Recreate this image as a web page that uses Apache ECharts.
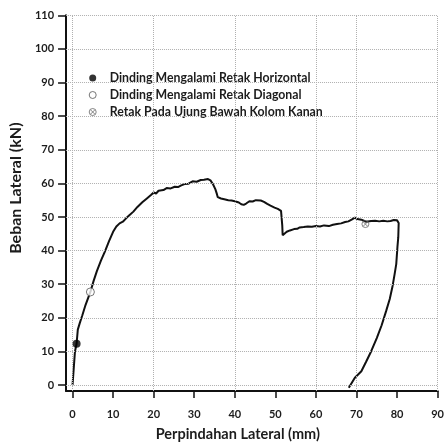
<!DOCTYPE html>
<html>
<head>
<meta charset="utf-8">
<script src="https://cdn.jsdelivr.net/npm/echarts@6/dist/echarts.min.js"></script>
<style>
html,body{margin:0;padding:0;background:#fff;}
#chart{width:447px;height:447px;}
</style>
</head>
<body>
<div id="chart"></div>
<script>
// Data
const dispX = [0,0.3,0.6,1.0,1.3,1.8,2.4,3.2,4.4,5.2,6.0,7.0,8.0,9.0,10.0,10.8,11.6,12.4,13.2,14.0,15.0,16.0,17.2,18.4,19.4,20.0,20.6,21.2,22.4,23.2,24.2,25.2,26.0,26.8,27.6,28.6,29.6,30.6,31.6,32.4,32.8,33.4,34.0,34.6,35.2,35.6,35.8,36.6,37.4,38.4,39.2,40.0,41.0,41.6,42.2,42.8,43.6,44.4,45.2,46.4,47.2,48.0,48.8,49.8,50.6,51.4,51.6,51.7,51.8,52.2,52.8,53.6,54.6,55.4,56.0,57.0,58.0,59.0,60.0,61.0,62.0,63.2,64.2,65.2,66.2,67.2,68.0,68.8,69.6,70.2,70.6,71.2,72.4,73.6,74.6,75.6,76.6,77.6,78.4,79.2,80.0,80.4,80.3,80.1,79.8,79.4,78.9,78.2,77.3,76.2,75.0,73.6,72.4,71.2,69.6,68.1];
const loadY = [0,5,10,12.3,16.5,18.5,20.7,23.8,27.7,31,33.9,37,39.8,42.8,45.6,47.2,48.1,48.6,49.6,50.5,51.6,53.0,54.4,55.6,56.6,57.3,57.0,57.8,58.0,58.6,58.5,59.0,58.9,59.4,59.8,59.9,60.6,60.5,61.0,61.1,61.6,61.3,60.9,59.8,58.3,56.8,55.9,55.5,55.3,55.0,54.9,54.7,54.3,53.8,53.6,54.0,54.7,54.6,55.0,54.9,54.5,53.9,53.4,52.8,52.4,51.8,51.5,47.5,44.6,45.1,45.6,46.0,46.4,46.5,46.9,47.0,47.2,47.1,47.3,47.2,47.5,47.3,47.7,47.9,48.1,48.5,48.7,49.2,49.8,49.4,49.6,49.2,48.6,48.8,48.9,48.7,48.9,48.7,48.8,49.1,49.0,48.2,44,41.2,36,33,29.5,25.6,22,17.8,14,10.0,7,4.1,2.2,-0.8];

const eventNames = ['Dinding Mengalami Retak Horizontal','Dinding Mengalami Retak Diagonal','Retak Pada Ujung Bawah Kolom Kanan'];
const eventX = [1.0, 4.4, 72.2];
const eventY = [12.3, 27.7, 47.9];

const xTicks = [0,10,20,30,40,50,60,70,80,90];
const yTicks = [0,10,20,30,40,50,60,70,80,90,100,110];
const xGridLines = [0,20,40,60,70,90];
const yGridLines = [0,10,20,30,40,50,60,70,80,90,100,110];

const xTitle = 'Perpindahan Lateral (mm)';
const yTitle = 'Beban Lateral (kN)';

const FONT = 'Lato';
const TXT = '#1c1c1c';

const curve = dispX.map((x,i)=>[x, loadY[i]]);
const gridStyle = {color:'#b0b0b0', type:'dotted', width:1};

const crossPath = 'path://M0,-10A10,10 0 1,1 0,10A10,10 0 1,1 0,-10ZM-6,-6L6,6M6,-6L-6,6';
const blackStyle = {color:'#000'};
const openStyle = {color:'#fff', borderColor:'#555', borderWidth:1};
const crossStyle = {color:'rgba(0,0,0,0)', borderColor:'#666', borderWidth:1};

const chart = echarts.init(document.getElementById('chart'), null, {renderer:'canvas'});
chart.setOption({
  animation:false,
  backgroundColor:'#fff',
  textStyle:{fontFamily:FONT},
  grid:{left:60, right:5.3, top:15.3, bottom:50.3, containLabel:false},
  legend:{
    orient:'vertical', left:83.7, top:67, itemWidth:24, itemHeight:7, itemGap:5,
    data:[
      {name:eventNames[0], icon:'circle', itemStyle:blackStyle},
      {name:eventNames[1], icon:'circle', itemStyle:openStyle},
      {name:eventNames[2], icon:crossPath, itemStyle:crossStyle}
    ],
    textStyle:{fontFamily:FONT, fontSize:12.3, fontWeight:'bold', color:TXT}
  },
  xAxis:{
    type:'value', min:-1.6, max:90,
    name:xTitle, nameLocation:'middle', nameGap:36,
    nameTextStyle:{fontFamily:FONT, fontSize:14.5, fontWeight:'bold', color:TXT, padding:[0,28,0,0]},
    axisLine:{show:true, onZero:false, lineStyle:{color:'#111', width:2}},
    axisTick:{show:true, customValues:xTicks, length:7, lineStyle:{color:'#111', width:1.5}},
    axisLabel:{customValues:xTicks, margin:18, fontFamily:FONT, fontSize:11, fontWeight:'bold', color:TXT},
    splitLine:{show:false}
  },
  yAxis:{
    type:'value', min:-1.76, max:110,
    name:yTitle, nameLocation:'middle', nameGap:32,
    nameTextStyle:{fontFamily:FONT, fontSize:16, fontWeight:'bold', color:TXT, padding:[0,0,0,30]},
    axisLine:{show:true, onZero:false, lineStyle:{color:'#111', width:2}},
    axisTick:{show:true, customValues:yTicks, length:8, lineStyle:{color:'#111', width:1.5}},
    axisLabel:{customValues:yTicks, margin:12, fontFamily:FONT, fontSize:11, fontWeight:'bold', color:TXT},
    splitLine:{show:false}
  },
  series:[
    {
      type:'line', name:'grid', data:[], z:1, silent:true, symbol:'none',
      markLine:{
        silent:true, symbol:['none','none'], label:{show:false}, animation:false,
        lineStyle:gridStyle,
        data: xGridLines.map(v=>({xAxis:v})).concat(yGridLines.map(v=>({yAxis:v})))
      }
    },
    {
      type:'line', name:'curve', data:curve, z:3, symbol:'none', showSymbol:false,
      lineStyle:{color:'#111', width:2}
    },
    {
      type:'scatter', name:eventNames[0], data:[[eventX[0],eventY[0]]], z:5,
      symbol:'circle', symbolSize:8, itemStyle:blackStyle
    },
    {
      type:'scatter', name:eventNames[1], data:[[eventX[1],eventY[1]]], z:5,
      symbol:'circle', symbolSize:8, itemStyle:openStyle
    },
    {
      type:'scatter', name:eventNames[2], data:[[eventX[2],eventY[2]]], z:5,
      symbol:crossPath, symbolSize:7, itemStyle:crossStyle
    }
  ]
});
</script>
</body>
</html>
